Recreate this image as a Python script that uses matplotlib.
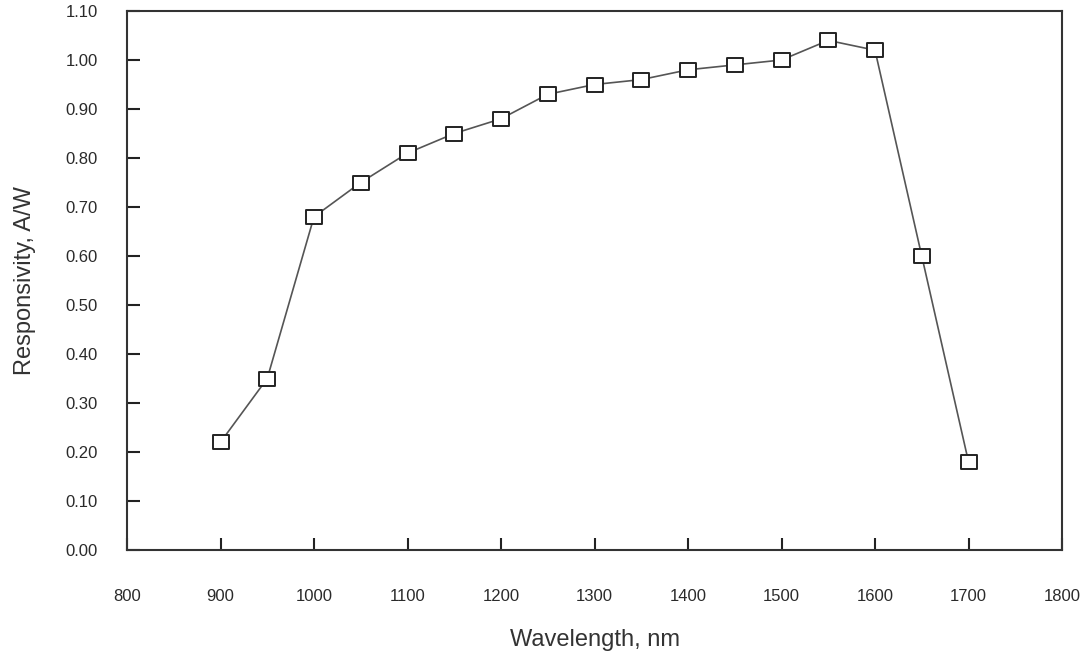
import numpy as np
import matplotlib
matplotlib.use("Agg")
import matplotlib.pyplot as plt
from matplotlib.path import Path
from matplotlib import font_manager

# responsivity curve
wavelength = [900, 950, 1000, 1050, 1100, 1150, 1200, 1250, 1300,
              1350, 1400, 1450, 1500, 1550, 1600, 1650, 1700]
responsivity = [0.22, 0.35, 0.68, 0.75, 0.81, 0.85, 0.88, 0.93, 0.95,
                0.96, 0.98, 0.99, 1.00, 1.04, 1.02, 0.60, 0.18]

xTicks = [800, 900, 1000, 1100, 1200, 1300, 1400, 1500, 1600, 1700, 1800]
yTicks = [0.0, 0.1, 0.2, 0.3, 0.4, 0.5, 0.6, 0.7, 0.8, 0.9, 1.0, 1.1]

names = {f.name for f in font_manager.fontManager.ttflist}
family = ["Liberation Sans Narrow"] if "Liberation Sans Narrow" in names else ["Liberation Sans"]
plt.rcParams["font.family"] = family + ["DejaVu Sans"]

# slightly wide open square, like the original
rectMarker = Path([(-1, -0.8), (1, -0.8), (1, 0.8), (-1, 0.8), (-1, -0.8)],
                  [Path.MOVETO, Path.LINETO, Path.LINETO, Path.LINETO, Path.CLOSEPOLY])

fig = plt.figure(figsize=(10.81, 6.58), dpi=100)
ax = fig.add_axes([127 / 1081, 1 - 550 / 658, (1062 - 127) / 1081, (550 - 11) / 658])

ax.plot(wavelength, responsivity, color="#555555", linewidth=1.2,
        marker=rectMarker, markersize=12, markerfacecolor="white",
        markeredgecolor="#222222", markeredgewidth=1.4)

ax.set_xlim(800, 1800)
ax.set_ylim(0, 1.1)
ax.set_xticks(xTicks)
ax.set_yticks(yTicks)
ax.set_xticklabels([str(t) for t in xTicks])
ax.set_yticklabels(["%.2f" % t for t in yTicks])

for s in ax.spines.values():
    s.set_linewidth(1.5)
    s.set_color("#333333")

ax.tick_params(axis="both", direction="in", length=9, width=1.5, color="#222222",
               labelsize=12, labelcolor="#2a2a2a")
ax.tick_params(axis="x", pad=28)
ax.tick_params(axis="y", pad=21)

ax.set_xlabel("Wavelength, nm", fontsize=17, color="#333333", labelpad=18)
ax.set_ylabel("Responsivity, A/W", fontsize=17, color="#333333", labelpad=21)

fig.savefig("out.png", dpi=100)
